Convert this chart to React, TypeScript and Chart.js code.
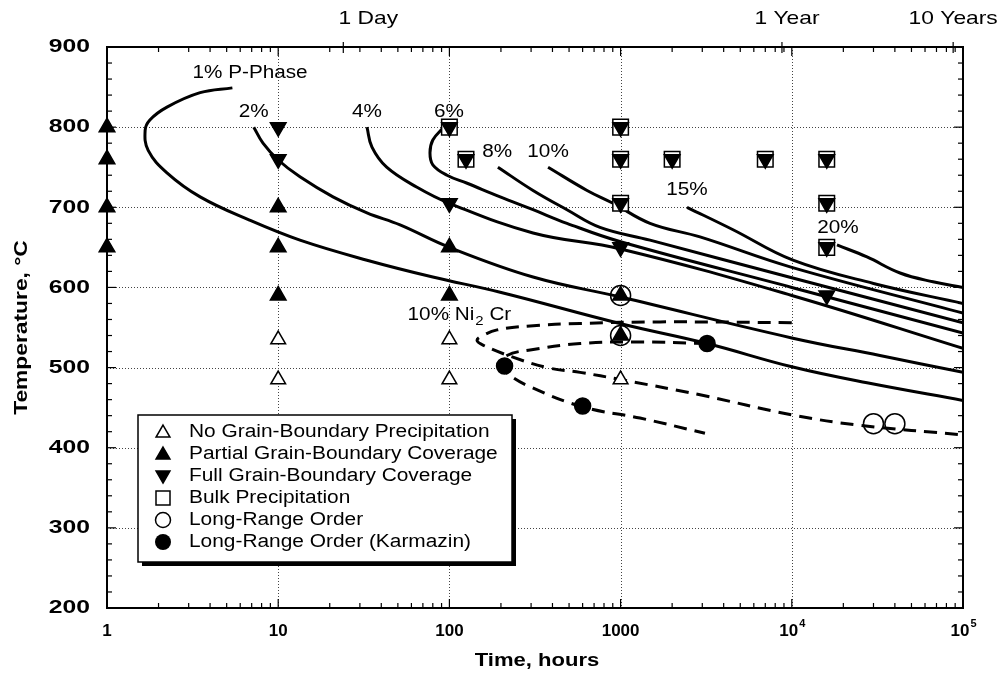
import React, { useEffect, useRef } from 'react';
import { Chart, registerables } from 'chart.js';

Chart.register(...registerables);

// ---------- axes ----------
const xMin = 1;
const xMax = 100000;
const yMin = 200;
const yMax = 900;
const xTickValues = [1, 10, 100, 1000, 10000, 100000];
const xTickBase = ['1', '10', '100', '1000', '10', '10'];
const xTickExp = ['', '', '', '', '4', '5'];
const yTickValues = [200, 300, 400, 500, 600, 700, 800, 900];
const gridX = [10, 100, 1000, 10000];
const gridY = [300, 400, 500, 600, 700, 800];
const topMarkHours = [24, 8760, 87600];
const topMarkLabels = ['1 Day', '1 Year', '10 Years'];

// ---------- iso-precipitation curves (time h, temperature °C) ----------
const c1Time = [5.4, 3.5, 2.24, 1.78, 1.67, 1.74, 2.24, 3.5, 6.8, 13.4, 33, 80, 198, 990, 3200, 10000, 27500, 100000];
const c1Temp = [849, 843, 825, 809, 796, 771, 743, 713, 684, 659, 634, 613, 594, 555, 530, 501, 481, 459];
const c2Time = [7.2, 8.15, 10, 13.4, 20.9, 33, 51.5, 100, 308, 1000, 10000, 32700, 100000];
const c2Temp = [800, 780, 759, 738, 713, 693, 678, 650, 613, 588, 537, 515, 494];
const c4Time = [33, 35.3, 43, 64.7, 100, 308, 1000, 10000, 100000];
const c4Temp = [800, 775, 750, 725, 705, 668, 648, 590, 524];
const c6Time = [91.8, 80, 77, 80, 96.8, 127, 198, 308, 486, 1000, 10000, 100000];
const c6Temp = [799, 784, 768, 753, 740, 730, 713, 697, 680, 657, 600, 543];
const c8Time = [192, 308, 486, 758, 1485, 10000, 100000];
const c8Temp = [750, 721, 697, 675, 659, 612, 556];
const c10Time = [377, 637, 903, 1485, 2910, 10000, 100000];
const c10Temp = [750, 721, 705, 680, 663, 625, 568];
const c15Time = [2443, 4538, 10160, 30000, 100000];
const c15Temp = [700, 672, 634, 605, 580];
const c20Time = [18360, 27500, 42900, 66800, 100000];
const c20Temp = [653, 638, 618, 607, 600];
const ni2crTime = [10000, 1700, 580, 296, 190, 157, 145, 157, 235, 372, 580, 1000, 2910, 10000, 25000, 100000];
const ni2crTemp = [556, 557, 555, 552, 547, 540, 534, 528, 513, 500, 494, 485, 466, 441, 428, 416];
const lroCurveTime = [3200, 1180, 580, 296, 217, 203, 217, 296, 600, 1298, 3110];
const lroCurveTemp = [530, 532, 530, 522, 515, 503, 493, 476, 451, 437, 418];

// ---------- observations ----------
const noPrecipTime = [10, 10, 100, 100, 1000];
const noPrecipTemp = [535, 485, 535, 485, 485];
const partialTime = [1, 1, 1, 1, 10, 10, 10, 100, 100, 1000, 1000];
const partialTemp = [800, 760, 700, 650, 700, 650, 590, 650, 590, 590, 540];
const fullTime = [10, 10, 100, 1000, 16000, 100, 125, 1000, 1000, 1000, 2000, 7000, 16000, 16000, 16000];
const fullTemp = [800, 760, 705, 650, 590, 800, 760, 800, 760, 705, 760, 760, 760, 705, 650];
const bulkTime = [100, 125, 1000, 1000, 1000, 2000, 7000, 16000, 16000, 16000];
const bulkTemp = [800, 760, 800, 760, 705, 760, 760, 760, 705, 650];
const lroTime = [1000, 1000, 30000, 40000];
const lroTemp = [590, 540, 430, 430];
const karmazinTime = [210, 600, 3200];
const karmazinTemp = [502, 452, 530];

// ---------- labels ----------
const curveLabels = ['1% P-Phase', '2%', '4%', '6%', '8%', '10%', '15%', '20%'];
const curveLabelTime = [6.85, 7.2, 33, 99.5, 190, 377, 2443, 18600];
const curveLabelTemp = [867, 819, 819, 819, 769, 769, 721, 674];
const legendLabels = [
  'No Grain-Boundary Precipitation',
  'Partial Grain-Boundary Coverage',
  'Full Grain-Boundary Coverage',
  'Bulk Precipitation',
  'Long-Range Order',
  'Long-Range Order (Karmazin)',
];

const FONT = '"Liberation Sans", Arial, Helvetica, sans-serif';

const pts = (xs: number[], ys: number[]) => xs.map((x, i) => ({ x, y: ys[i] }));

function drawText(ctx: CanvasRenderingContext2D, s: string, x: number, y: number, font: string, align = 'center', sx = 1) {
  ctx.save();
  ctx.font = font;
  ctx.textBaseline = 'middle';
  ctx.textAlign = 'left';
  const w = ctx.measureText(s).width * sx;
  const left = align === 'center' ? x - w / 2 : align === 'right' ? x - w : x;
  ctx.translate(left, y);
  ctx.scale(sx, 1);
  ctx.fillStyle = '#000';
  ctx.fillText(s, 0, 0);
  ctx.restore();
  return w;
}

function tri(ctx: CanvasRenderingContext2D, cx: number, cy: number, r: number, down: boolean, filled: boolean) {
  const s = down ? -1 : 1;
  ctx.beginPath();
  ctx.moveTo(cx, cy - s * r);
  ctx.lineTo(cx + r * 0.866, cy + s * r * 0.5);
  ctx.lineTo(cx - r * 0.866, cy + s * r * 0.5);
  ctx.closePath();
  ctx.fillStyle = filled ? '#000' : '#fff';
  ctx.fill();
  ctx.lineWidth = 1.5;
  ctx.strokeStyle = '#000';
  ctx.stroke();
}

const decor = {
  id: 'decor',
  beforeDatasetsDraw(chart: any) {
    const { ctx, chartArea: a, scales } = chart;
    const x = scales.x;
    const y = scales.y;
    ctx.save();
    ctx.strokeStyle = '#444';
    ctx.lineWidth = 1;
    ctx.setLineDash([1, 2]);
    gridX.forEach((v) => {
      const p = Math.round(x.getPixelForValue(v)) + 0.5;
      ctx.beginPath(); ctx.moveTo(p, a.top); ctx.lineTo(p, a.bottom); ctx.stroke();
    });
    gridY.forEach((v) => {
      const p = Math.round(y.getPixelForValue(v)) + 0.5;
      ctx.beginPath(); ctx.moveTo(a.left, p); ctx.lineTo(a.right, p); ctx.stroke();
    });
    ctx.restore();
  },
  afterDatasetsDraw(chart: any) {
    const { ctx, chartArea: a, scales } = chart;
    const x = scales.x;
    const y = scales.y;
    ctx.save();
    // frame
    ctx.strokeStyle = '#000';
    ctx.lineWidth = 2;
    ctx.strokeRect(a.left, a.top, a.right - a.left, a.bottom - a.top);
    ctx.lineWidth = 1.2;
    const seg = (x1: number, y1: number, x2: number, y2: number) => {
      ctx.beginPath(); ctx.moveTo(x1, y1); ctx.lineTo(x2, y2); ctx.stroke();
    };
    // x ticks
    for (let d = 0; d < 5; d++) {
      for (let k = 1; k <= 9; k++) {
        const v = k * Math.pow(10, d);
        const p = x.getPixelForValue(v);
        const len = k === 1 ? 9 : 5;
        seg(p, a.bottom, p, a.bottom - len);
        seg(p, a.top, p, a.top + len);
      }
    }
    // top special marks
    const topOffset = [25, 5, 0];
    topMarkHours.forEach((h, i) => {
      const p = x.getPixelForValue(h);
      seg(p, a.top - 5, p, a.top + 6);
      drawText(ctx, topMarkLabels[i], p + topOffset[i], 19, `19px ${FONT}`, 'center', 1.2);
    });
    // y ticks
    for (let v = yMin; v <= yMax; v += 20) {
      const p = y.getPixelForValue(v);
      const len = v % 100 === 0 ? 9 : 5;
      seg(a.left, p, a.left + len, p);
      seg(a.right, p, a.right - len, p);
    }
    // tick labels
    yTickValues.forEach((v) => {
      drawText(ctx, String(v), a.left - 17, y.getPixelForValue(v), `bold 19px ${FONT}`, 'right', 1.3);
    });
    xTickValues.forEach((v, i) => {
      const p = x.getPixelForValue(v);
      const base = xTickBase[i];
      const exp = xTickExp[i];
      ctx.font = `bold 17px ${FONT}`;
      const wb = ctx.measureText(base).width;
      ctx.font = `bold 11px ${FONT}`;
      const we = exp ? ctx.measureText(exp).width : 0;
      const left = p - (wb + we) / 2;
      drawText(ctx, base, left, a.bottom + 23, `bold 17px ${FONT}`, 'left', 1);
      if (exp) drawText(ctx, exp, left + wb + 1, a.bottom + 16, `bold 11px ${FONT}`, 'left', 1);
    });
    // axis titles
    drawText(ctx, 'Time, hours', (a.left + a.right) / 2 + 2, 661, `bold 19px ${FONT}`, 'center', 1.16);
    ctx.save();
    ctx.translate(22, (a.top + a.bottom) / 2);
    ctx.rotate(-Math.PI / 2);
    drawText(ctx, 'Temperature, °C', 0, 0, `bold 19px ${FONT}`, 'center', 1.2);
    ctx.restore();
    // curve labels
    curveLabels.forEach((s, i) => {
      drawText(ctx, s, x.getPixelForValue(curveLabelTime[i]), y.getPixelForValue(curveLabelTemp[i]), `18px ${FONT}`, 'center', 1.15);
    });
    // Ni2Cr label with subscript
    {
      const lx = x.getPixelForValue(57);
      const ly = y.getPixelForValue(565);
      let cx = lx;
      cx += drawText(ctx, '10% Ni', cx, ly, `18px ${FONT}`, 'left', 1.15);
      cx += 1;
      cx += drawText(ctx, '2', cx, ly + 6, `13px ${FONT}`, 'left', 1.15);
      drawText(ctx, ' Cr', cx, ly, `18px ${FONT}`, 'left', 1.15);
    }
    // legend
    const L = 138, T = 415, R = 512, B = 562;
    ctx.fillStyle = '#000';
    ctx.fillRect(L + 4, T + 4, R - L, B - T);
    ctx.fillStyle = '#fff';
    ctx.fillRect(L, T, R - L, B - T);
    ctx.lineWidth = 1.5;
    ctx.strokeStyle = '#000';
    ctx.strokeRect(L, T, R - L, B - T);
    const rows = [432, 454, 476, 498, 520, 542];
    const sx = 163;
    legendLabels.forEach((s, i) => {
      const ry = rows[i];
      if (i === 0) tri(ctx, sx, ry + 1, 8, false, false);
      if (i === 1) tri(ctx, sx, ry + 1, 8, false, true);
      if (i === 2) tri(ctx, sx, ry - 1, 8, true, true);
      if (i === 3) { ctx.lineWidth = 1.5; ctx.strokeRect(sx - 7, ry - 7, 14, 14); }
      if (i === 4) { ctx.beginPath(); ctx.arc(sx, ry, 7.5, 0, Math.PI * 2); ctx.lineWidth = 1.5; ctx.stroke(); }
      if (i === 5) { ctx.beginPath(); ctx.arc(sx, ry, 8, 0, Math.PI * 2); ctx.fillStyle = '#000'; ctx.fill(); }
      drawText(ctx, s, 189, ry, `18px ${FONT}`, 'left', 1.16);
    });
    ctx.restore();
  },
};

const marker = (label: string, xs: number[], ys: number[], style: string, radius: number, fill: string, rotation = 0) => ({
  label,
  data: pts(xs, ys),
  showLine: false,
  pointStyle: style,
  pointRadius: radius,
  pointRotation: rotation,
  pointBackgroundColor: fill,
  pointBorderColor: '#000',
  pointBorderWidth: 1.5,
  clip: false,
});

const curve = (label: string, xs: number[], ys: number[], dashed = false) => ({
  label,
  data: pts(xs, ys),
  showLine: true,
  pointRadius: 0,
  borderColor: '#000',
  borderWidth: 3,
  borderDash: dashed ? [13, 8] : [],
  tension: 0.4,
  fill: false,
});

export default function App() {
  const ref = useRef<HTMLCanvasElement>(null);
  useEffect(() => {
    if (!ref.current) return;
    const chart = new Chart(ref.current, {
      type: 'scatter',
      data: {
        datasets: [
          marker('Long-Range Order (Karmazin)', karmazinTime, karmazinTemp, 'circle', 8, '#000'),
          marker('Full Grain-Boundary Coverage', fullTime, fullTemp, 'triangle', 9, '#000', 180),
          marker('Bulk Precipitation', bulkTime, bulkTemp, 'rect', 11, '#fff'),
          marker('Partial Grain-Boundary Coverage', partialTime, partialTemp, 'triangle', 9, '#000'),
          marker('No Grain-Boundary Precipitation', noPrecipTime, noPrecipTemp, 'triangle', 8.5, '#fff'),
          marker('Long-Range Order', lroTime, lroTemp, 'circle', 10, 'rgba(0,0,0,0)'),
          curve('1% P-Phase', c1Time, c1Temp),
          curve('2%', c2Time, c2Temp),
          curve('4%', c4Time, c4Temp),
          curve('6%', c6Time, c6Temp),
          curve('8%', c8Time, c8Temp),
          curve('10%', c10Time, c10Temp),
          curve('15%', c15Time, c15Temp),
          curve('20%', c20Time, c20Temp),
          curve('10% Ni2Cr', ni2crTime, ni2crTemp, true),
          curve('Long-Range Order boundary', lroCurveTime, lroCurveTemp, true),
        ] as any,
      },
      options: {
        animation: false,
        responsive: false,
        devicePixelRatio: 1,
        layout: { padding: { left: 107, top: 47, right: 45, bottom: 69 } },
        plugins: { legend: { display: false }, tooltip: { enabled: false } },
        scales: {
          x: { type: 'logarithmic', min: xMin, max: xMax, display: false },
          y: { type: 'linear', min: yMin, max: yMax, display: false },
        },
      } as any,
      plugins: [decor],
    });
    return () => chart.destroy();
  }, []);
  return (
    <div style={{ position: 'fixed', left: 0, top: 0, width: 1008, height: 677, background: '#fff' }}>
      <canvas ref={ref} width={1008} height={677} style={{ display: 'block' }} />
    </div>
  );
}
